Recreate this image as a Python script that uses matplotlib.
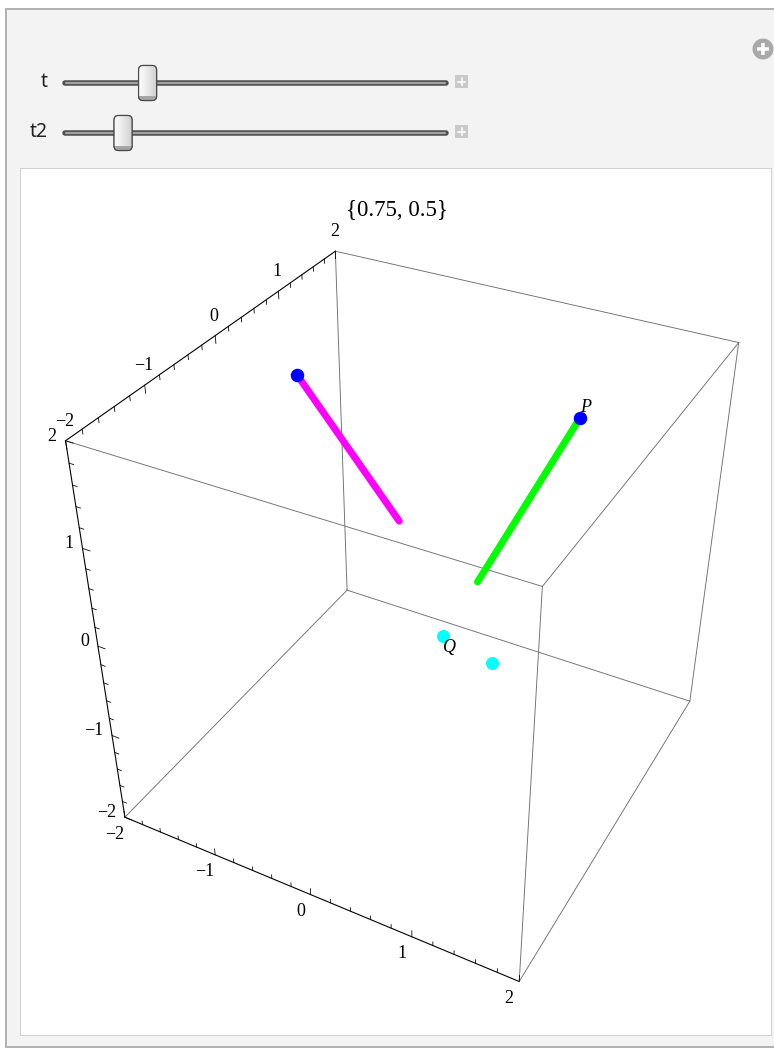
import numpy as np
import matplotlib
matplotlib.use("Agg")
import matplotlib.pyplot as plt
from matplotlib.patches import Rectangle, FancyBboxPatch, Circle

# ---------------- data ----------------
t_value = 0.75
t2_value = 0.5
slider_names = ["t", "t2"]
slider_range = (0.0, 3.7)
tick_values = [-2, -1, 0, 1, 2]
box_lo, box_hi = -2.0, 2.0
magenta_seg = np.array([[-1.52, 0.51, 1.5], [-0.32, 0.20, 0.5]])
green_seg = np.array([[1.00, 1.00, 1.5], [0.40, 0.33, 0.0]])
blue_pts = np.array([[-1.52, 0.51, 1.5], [1.00, 1.00, 1.5]])
cyan_pts = np.array([[0.49, -0.51, 0.0], [1.02, -0.64, 0.0]])
label_P = "P"
label_Q = "Q"

# camera (3D -> figure pixels), fitted to the view
CAM = np.array([[87.5858, 76.0369, -18.2559, 420.336],
                [14.8709, -27.5730, -116.823, 588.749],
                [-0.0282667, 0.0530763, -0.0435264, 1.0]])


def proj(pts):
    pts = np.atleast_2d(np.asarray(pts, float))
    h = np.hstack([pts, np.ones((len(pts), 1))]) @ CAM.T
    return h[:, 0] / h[:, 2], h[:, 1] / h[:, 2]


W, H = 774, 1049
fig = plt.figure(figsize=(W / 100, H / 100), dpi=100)
ax = fig.add_axes([0, 0, 1, 1])
ax.set_xlim(0, W)
ax.set_ylim(H, 0)
ax.axis("off")
PX = 0.72  # points per pixel

# ---------------- chrome ----------------
ax.add_patch(Rectangle((6, 9), 820, 1038, fc="#f3f3f3", ec="#b2b2b2", lw=2 * PX, zorder=0))
ax.add_patch(Rectangle((20, 168), 751, 867, fc="white", ec="#a8a8a8", lw=1 * PX,
                       ls=(0, (1, 1)), zorder=0.5))

# circle plus icon
ax.add_patch(Circle((763, 49), 10.5, fc="#a9a9a9", ec="none", zorder=1))
ax.plot([757, 769], [49, 49], color="white", lw=3.5 * PX, zorder=2, solid_capstyle="butt")
ax.plot([763, 763], [43, 55], color="white", lw=3.5 * PX, zorder=2, solid_capstyle="butt")

track_x0, track_x1 = 65, 446
thumb_x0, thumb_x1 = 74, 437
for name, val, yc in zip(slider_names, [t_value, t2_value], [83, 133]):
    ax.text(48, yc - 1, name, ha="right", va="center", fontsize=14,
            family=["Noto Sans", "DejaVu Sans"], color="#222222")
    ax.plot([track_x0, track_x1], [yc, yc], color="#4d4d4d", lw=5.5 * PX,
            solid_capstyle="round", zorder=2)
    ax.plot([track_x0 + 1, track_x1 - 1], [yc + 0.3, yc + 0.3], color="#a0a0a0", lw=2.2 * PX,
            solid_capstyle="round", zorder=2.1)
    frac = (val - slider_range[0]) / (slider_range[1] - slider_range[0])
    xc = thumb_x0 + frac * (thumb_x1 - thumb_x0)
    thumb = FancyBboxPatch((xc - 9, yc - 17.5), 18, 35,
                           boxstyle="round,pad=0,rounding_size=4.5",
                           fc="#f4f4f4", ec="#4a4a4a", lw=1.2 * PX, zorder=3)
    ax.add_patch(thumb)
    grad = np.linspace(0, 1, 32)[None, :]
    im = ax.imshow(grad, extent=(xc - 9, xc + 9, yc + 17.5, yc - 17.5), cmap="Greys",
                   vmin=-0.15, vmax=3.6, aspect="auto", zorder=3.1)
    im.set_clip_path(thumb)
    band = Rectangle((xc - 9, yc + 13), 18, 5, fc="#a6a6a6", ec="none", zorder=3.2)
    ax.add_patch(band)
    band.set_clip_path(thumb)
    edge = FancyBboxPatch((xc - 9, yc - 17.5), 18, 35,
                          boxstyle="round,pad=0,rounding_size=4.5",
                          fc="none", ec="#4a4a4a", lw=1.2 * PX, zorder=3.3)
    ax.add_patch(edge)
    # small plus square
    ax.add_patch(Rectangle((455, yc - 8), 13, 13, fc="#c9c9c9", ec="none", zorder=2))
    ax.plot([458, 465], [yc - 1.5, yc - 1.5], color="white", lw=1.6 * PX, zorder=2.5)
    ax.plot([461.5, 461.5], [yc - 5, yc + 2], color="white", lw=1.6 * PX, zorder=2.5)

# ---------------- 3D box ----------------
lo, hi = box_lo, box_hi
corners = [(i, j, k) for i in (lo, hi) for j in (lo, hi) for k in (lo, hi)]
edges = []
for a in corners:
    for b in corners:
        if a < b and sum(1 for p, q in zip(a, b) if p != q) == 1:
            edges.append((a, b))
axis_edges = {((lo, lo, lo), (hi, lo, lo)), ((lo, lo, lo), (lo, lo, hi)), ((lo, lo, hi), (lo, hi, hi))}
for a, b in edges:
    xs, ys = proj([a, b])
    if (a, b) in axis_edges:
        ax.plot(xs, ys, color="black", lw=1.1 * PX, zorder=4)
    else:
        ax.plot(xs, ys, color="#6e6e6e", lw=0.9 * PX, zorder=4)

# ticks
serif = ["Liberation Serif", "DejaVu Serif"]
minor = np.round(np.arange(lo, hi + 1e-9, 0.2), 6)
for v in minor:
    major = abs(v - round(v)) < 1e-6
    L = 0.075 if major else 0.045
    # x axis (y=lo, z=lo), ticks toward +z
    xs, ys = proj([[v, lo, lo], [v, lo, lo + L]])
    ax.plot(xs, ys, color="black", lw=0.8 * PX, zorder=4)
    # y axis (x=lo, z=hi), ticks toward -z
    xs, ys = proj([[lo, v, hi], [lo, v, hi - L]])
    ax.plot(xs, ys, color="black", lw=0.8 * PX, zorder=4)
    # z axis (x=lo, y=lo), ticks toward +x
    xs, ys = proj([[lo, lo, v], [lo + L, lo, v]])
    ax.plot(xs, ys, color="black", lw=0.8 * PX, zorder=4)


def fmt(v):
    return str(v) if v >= 0 else "\u2212" + str(-v)


for v in tick_values:
    px, py = proj([[v, lo, lo]])
    ax.text(px[0] - 10, py[0] + 17, fmt(v), ha="center", va="center", fontsize=13,
            family=serif, zorder=6)
    px, py = proj([[lo, v, hi]])
    ax.text(px[0] - 1, py[0] - 19.5, fmt(v), ha="center", va="center", fontsize=13,
            family=serif, zorder=6)
    px, py = proj([[lo, lo, v]])
    ax.text(px[0] - 9, py[0] - 4.5, fmt(v), ha="right", va="center", fontsize=13,
            family=serif, zorder=6)

# title
ax.text(397, 210, "{%s, %s}" % (t_value, t2_value), ha="center", va="center",
        fontsize=16.5, family=serif, zorder=6)

# ---------------- marks ----------------
xs, ys = proj(magenta_seg)
ax.plot(xs, ys, color="#ff00ff", lw=7 * PX, solid_capstyle="round", zorder=5)
xs, ys = proj(green_seg)
ax.plot(xs, ys, color="#00ff00", lw=7 * PX, solid_capstyle="round", zorder=5)
xs, ys = proj(blue_pts)
ax.plot(xs, ys, "o", color="#0000ff", ms=13.5 * PX, mec="none", zorder=5.5)
xs, ys = proj(cyan_pts)
ax.plot(xs, ys, "o", color="#00ffff", ms=13 * PX, mec="none", zorder=5.5)

px, py = proj(blue_pts[1:2])
ax.text(px[0] + 6, py[0] - 10, label_P, ha="center", va="center", fontsize=13,
        family=serif, style="italic", zorder=6)
qx, qy = proj(cyan_pts[0:1])
ax.text(qx[0] + 7, qy[0] + 11, label_Q, ha="center", va="center", fontsize=13,
        family=serif, style="italic", zorder=6)

fig.savefig("out.png", dpi=100)
